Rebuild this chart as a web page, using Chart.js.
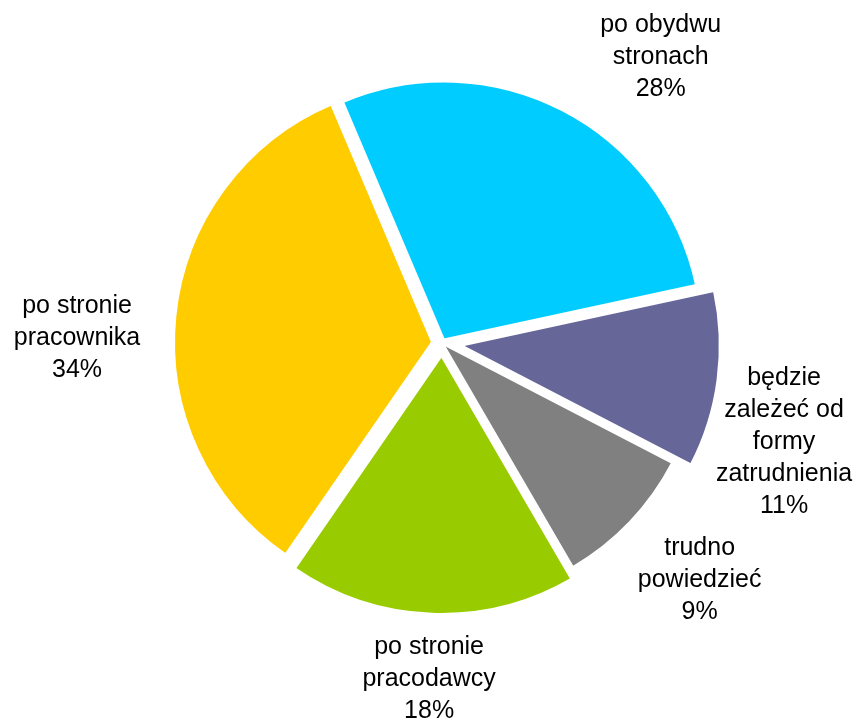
<!DOCTYPE html>
<html>
<head>
<meta charset="utf-8">
<script src="https://cdn.jsdelivr.net/npm/chart.js@4.4.1/dist/chart.umd.min.js"></script>
<style>
    html, body { margin: 0; padding: 0; background: #fff; }
    #wrap { width: 856px; height: 718px; position: relative; }
</style>
</head>
<body>
<div id="wrap"><canvas id="pie"></canvas></div>
<script>
"use strict";

// Chart data
var categories = [
    ['po obydwu', 'stronach'],
    ['będzie', 'zależeć od', 'formy', 'zatrudnienia'],
    ['trudno', 'powiedzieć'],
    ['po stronie', 'pracodawcy'],
    ['po stronie', 'pracownika']
];
var shares = [28, 11, 9, 18, 34];
var sliceColors = ['#00ccff', '#666699', '#808080', '#99cc00', '#ffcc00'];

// How far each slice is pulled out of the pie (px)
var explode = [4, 20, 1.5, 13, 10];
// Label placement: distance from pie center and angle nudge (deg)
var labelDist = [360, 356, 350, 336, 365];
var labelNudge = [10, 8.5, -1, 0, -5];

var InitPie = function () {
    var fontFamily = '"Liberation Sans", Arial, sans-serif';

    // move each arc out along its middle angle, without growing it
    var explodePlugin = {
        id: 'explode',
        afterDatasetsUpdate: function (chart) {
            var meta = chart.getDatasetMeta(0);
            meta.data.forEach(function (arc, i) {
                var mid = (arc.startAngle + arc.endAngle) / 2;
                arc.x += Math.cos(mid) * explode[i];
                arc.y += Math.sin(mid) * explode[i];
            });
        }
    };

    var labelPlugin = {
        id: 'outerLabels',
        afterDatasetsDraw: function (chart) {
            var ctx = chart.ctx;
            var area = chart.chartArea;
            var cx = (area.left + area.right) / 2;
            var cy = (area.top + area.bottom) / 2;
            var meta = chart.getDatasetMeta(0);
            var lineHeight = 32;

            ctx.save();
            ctx.font = '25px ' + fontFamily;
            ctx.fillStyle = '#000';
            ctx.textAlign = 'center';
            ctx.textBaseline = 'middle';

            meta.data.forEach(function (arc, i) {
                var a = (arc.startAngle + arc.endAngle) / 2 + labelNudge[i] * Math.PI / 180;
                var x = cx + Math.cos(a) * labelDist[i];
                var y = cy + Math.sin(a) * labelDist[i];
                var lines = categories[i].concat([shares[i] + '%']);
                var top = y - (lines.length - 1) * lineHeight / 2;
                lines.forEach(function (line, j) {
                    ctx.fillText(line, x, top + j * lineHeight);
                });
            });
            ctx.restore();
        }
    };

    var pieChart = function () {
        var ctx = document.getElementById('pie').getContext('2d');

        var config = {
            type: 'pie',
            data: {
                labels: categories.map(function (c) { return c.join(' '); }),
                datasets: [{
                    data: shares,
                    backgroundColor: sliceColors,
                    borderColor: '#ffffff',
                    borderWidth: 2
                }]
            },
            options: {
                responsive: true,
                maintainAspectRatio: false,
                animation: false,
                rotation: -23,
                radius: 258,
                layout: {
                    padding: { left: 28, right: 0, top: 0, bottom: 32 }
                },
                plugins: {
                    legend: { display: false },
                    tooltip: { enabled: false }
                }
            },
            plugins: [explodePlugin, labelPlugin]
        };

        new Chart(ctx, config);
    };

    return {
        init: function () {
            pieChart();
        }
    };
}();

InitPie.init();
</script>
</body>
</html>
